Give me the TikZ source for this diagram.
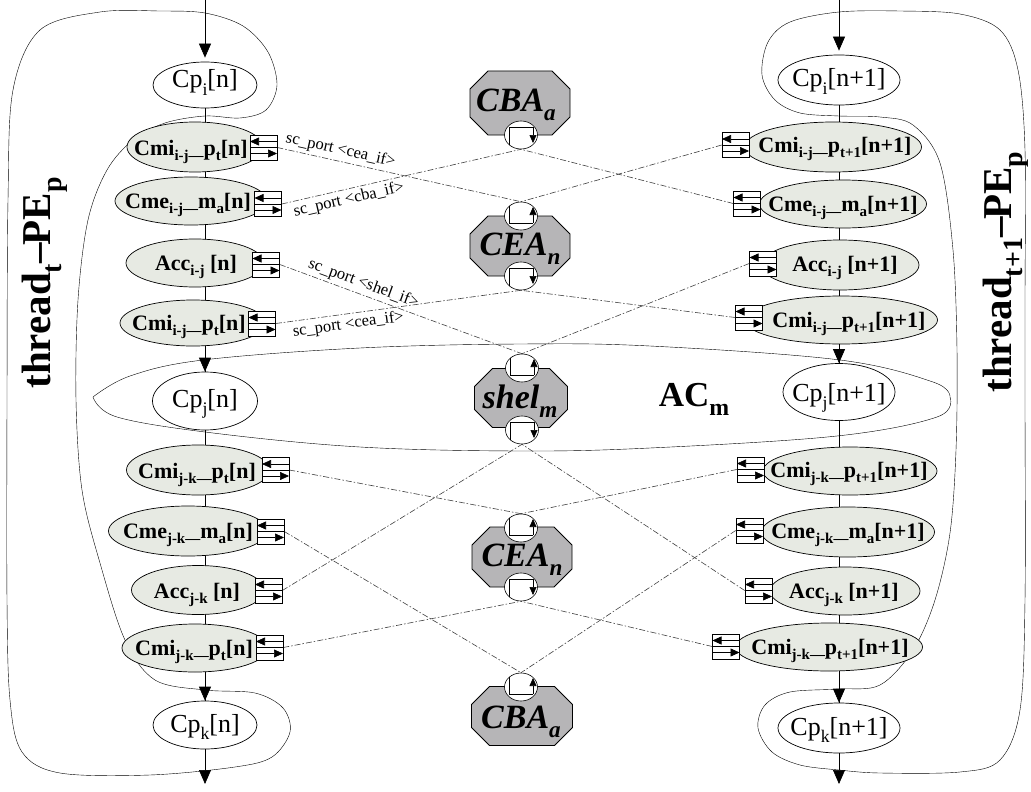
\documentclass[tikz,border=0pt]{standalone}
\usepackage{graphicx}
\usepackage{fontspec}
\setmainfont{Liberation Serif}
\usetikzlibrary{shapes.geometric,arrows.meta,backgrounds}
\definecolor{gfill}{RGB}{231,234,227}
\definecolor{ofill}{RGB}{182,181,183}
% lowered, reduced subscript as used in all the labels
\newcommand{\sbs}[1]{\raisebox{-0.27em}{\scalebox{0.68}{#1}}}
\newcommand{\fs}[1]{\fontsize{#1}{#1}\selectfont}

\begin{document}
\begin{tikzpicture}[x=1pt,y=-1pt,line width=0.7pt,
  sz/.style 2 args={minimum width=#1pt, minimum height=#2pt},
  cp/.style={ellipse, draw, fill=white, inner sep=0pt},
  gm/.style={ellipse, draw, fill=gfill, inner sep=0pt},
  cptext/.style={anchor=base, inner sep=0pt, font=\fs{26}},
  gtext/.style={anchor=base, inner sep=0pt, font=\bfseries\fs{22}},
  otext/.style={anchor=base, inner sep=0pt, font=\bfseries\itshape\fs{34}},
  bigtext/.style={anchor=base, inner sep=0pt, font=\bfseries\fs{35}},
  thrtext/.style={inner sep=0pt, font=\bfseries\fs{41}, rotate=90},
  arr/.style={-{Triangle[length=14pt,width=12pt]}},
  cl/.style={line width=0.6pt, black!75, dash pattern=on 6pt off 2pt on 1.5pt off 2pt},
  plab/.style={font=\fs{16.5}, text=black, inner sep=1pt, sloped},
  port/.style={rectangle, draw, fill=white, line width=0.6pt, inner sep=0pt,
    minimum width=27pt, minimum height=25pt,
    path picture={
      \draw[line width=0.6pt] (path picture bounding box.west) -- (path picture bounding box.east);
      \draw[line width=0.6pt, -{Triangle[length=9pt,width=8pt]}]
        ([shift={(0,-6)}]path picture bounding box.east) -- ([shift={(0,-6)}]path picture bounding box.west);
      \draw[line width=0.6pt, -{Triangle[length=9pt,width=8pt]}]
        ([shift={(0,6)}]path picture bounding box.west) -- ([shift={(0,6)}]path picture bounding box.east);
    }},
  pell/.style={ellipse, draw, fill=white, line width=0.6pt, inner sep=0pt,
    minimum width=33pt, minimum height=28pt},
  pdown/.style={pell, path picture={
      \draw[line width=0.6pt] ([shift={(-12,16)}]path picture bounding box.center)
        -- ([shift={(-12,-8)}]path picture bounding box.center)
        -- ([shift={(12,-8)}]path picture bounding box.center);
      \draw[line width=0.6pt, -{Triangle[length=8pt,width=7pt]}]
        ([shift={(12,-8)}]path picture bounding box.center) -- ([shift={(12,8)}]path picture bounding box.center);
    }},
  pup/.style={pell, path picture={
      \draw[line width=0.6pt] ([shift={(-12,-16)}]path picture bounding box.center)
        -- ([shift={(-12,7)}]path picture bounding box.center)
        -- ([shift={(12,7)}]path picture bounding box.center);
      \draw[line width=0.6pt, -{Triangle[length=8pt,width=7pt]}]
        ([shift={(12,7)}]path picture bounding box.center) -- ([shift={(12,-9)}]path picture bounding box.center);
    }},
  oct/.style 2 args={rectangle, inner sep=0pt, minimum width=#1pt, minimum height=#2pt,
    path picture={
      \fill[ofill, draw=black, line width=0.8pt]
        ([shift={(19,1)}]path picture bounding box.north west) --
        ([shift={(-19,1)}]path picture bounding box.north east) --
        ([shift={(-1,19)}]path picture bounding box.north east) --
        ([shift={(-1,-19)}]path picture bounding box.south east) --
        ([shift={(-19,-1)}]path picture bounding box.south east) --
        ([shift={(19,-1)}]path picture bounding box.south west) --
        ([shift={(1,-19)}]path picture bounding box.south west) --
        ([shift={(1,19)}]path picture bounding box.north west) -- cycle;
    }},
]
\useasboundingbox (0,0) rectangle (1031,792);

% free ends of the column arrows
\coordinate (ltop) at (205,0);
\coordinate (lbot) at (205,784);
\coordinate (rtop) at (839,0);
\coordinate (rbot) at (839,784);

% ---------- left column: thread t ----------
\node[cp, sz={104}{46}] (cpi) at (205,85) {};
\node[cptext] (cpit) at (205,88) {Cp\sbs{i}[n]};
\node[gm, sz={136}{50}] (cmi1) at (195,147) {};
\node[gtext] (cmi1t) at (191,155) {Cmi\sbs{i-j—}p\sbs{t}[n]};
\node[gm, sz={152}{48}] (cme1) at (191,201) {};
\node[gtext] (cme1t) at (188,208) {Cme\sbs{i-j—}m\sbs{a}[n]};
\node[gm, sz={138}{48}] (acc1) at (195,263) {};
\node[gtext] (acc1t) at (196,270) {Acc\sbs{i-j} [n]};
\node[gm, sz={146}{46}] (cmi2) at (193,323) {};
\node[gtext] (cmi2t) at (189,330) {Cmi\sbs{i-j—}p\sbs{t}[n]};
\node[cp, sz={105}{58}] (cpj) at (205,401) {};
\node[cptext] (cpjt) at (205,407) {Cp\sbs{j}[n]};
\node[gm, sz={143}{50}] (cmi3) at (198,470) {};
\node[gtext] (cmi3t) at (197,478) {Cmi\sbs{j-k—}p\sbs{t}[n]};
\node[gm, sz={159}{50}] (cme3) at (188,531) {};
\node[gtext] (cme3t) at (188,538) {Cme\sbs{j-k—}m\sbs{a}[n]};
\node[gm, sz={133}{49}] (acc3) at (198,590) {};
\node[gtext] (acc3t) at (197,598) {Acc\sbs{j-k} [n]};
\node[gm, sz={146}{48}] (cmi4) at (195,648) {};
\node[gtext] (cmi4t) at (194,655) {Cmi\sbs{j-k—}p\sbs{t}[n]};
\node[cp, sz={104}{48}] (cpk) at (205,725) {};
\node[cptext] (cpkt) at (205,732) {Cp\sbs{k}[n]};

\node[port] (cmi1p) at (263.5,147.5) {};
\node[port] (cme1p) at (268,204) {};
\node[port] (acc1p) at (266,264.5) {};
\node[port] (cmi2p) at (262,323.5) {};
\node[port] (cmi3p) at (275.5,470) {};
\node[port] (cme3p) at (270.5,531.5) {};
\node[port] (acc3p) at (268.5,590.5) {};
\node[port] (cmi4p) at (269.5,647.5) {};

% ---------- right column: thread t+1 ----------
\node[cp, sz={122}{50}] (cpir) at (839,80) {};
\node[cptext] (cpirt) at (839,87) {Cp\sbs{i}[n+1]};
\node[gm, sz={177}{50}] (cmi1r) at (833,147) {};
\node[gtext] (cmi1rt) at (835,152) {Cmi\sbs{i-j—}p\sbs{t+1}[n+1]};
\node[gm, sz={167}{48}] (cme1r) at (843,204) {};
\node[gtext] (cme1rt) at (843,211) {Cme\sbs{i-j—}m\sbs{a}[n+1]};
\node[gm, sz={158}{50}] (acc1r) at (840,265) {};
\node[gtext] (acc1rt) at (845,271) {Acc\sbs{i-j} [n+1]};
\node[gm, sz={193}{48}] (cmi2r) at (841,320) {};
\node[gtext] (cmi2rt) at (849,327) {Cmi\sbs{i-j—}p\sbs{t+1}[n+1]};
\node[cp, sz={112}{57}] (cpjr) at (839,392) {};
\node[cptext] (cpjrt) at (839,401) {Cp\sbs{j}[n+1]};
\node[gm, sz={174}{48}] (cmi3r) at (850,471) {};
\node[gtext] (cmi3rt) at (849,477) {Cmi\sbs{j-k—}p\sbs{t+1}[n+1]};
\node[gm, sz={173}{50}] (cme3r) at (848,532) {};
\node[gtext] (cme3rt) at (848,538) {Cme\sbs{j-k—}m\sbs{a}[n+1]};
\node[gm, sz={150}{48}] (acc3r) at (845,591) {};
\node[gtext] (acc3rt) at (844,598) {Acc\sbs{j-k} [n+1]};
\node[gm, sz={187}{48}] (cmi4r) at (829,647) {};
\node[gtext] (cmi4rt) at (830,654) {Cmi\sbs{j-k—}p\sbs{t+1}[n+1]};
\node[cp, sz={122}{50}] (cpkr) at (839,728) {};
\node[cptext] (cpkrt) at (839,735) {Cp\sbs{k}[n+1]};

\node[port] (cmi1rp) at (735.5,145) {};
\node[port] (cme1rp) at (747,203.5) {};
\node[port] (acc1rp) at (763,263.5) {};
\node[port] (cmi2rp) at (749,317.5) {};
\node[port] (cmi3rp) at (750.5,469.5) {};
\node[port] (cme3rp) at (749.5,530.5) {};
\node[port] (acc3rp) at (758.5,590.5) {};
\node[port] (cmi4rp) at (726,646.5) {};

% ---------- channels in the middle ----------
\node[oct={102}{66}] (cba1) at (520,103) {};
\node[otext] (cba1t) at (516,111) {CBA\sbs{a}};
\node[pdown] (cba1b) at (521,135) {};

\node[oct={102}{62}] (cea1) at (520,246) {};
\node[otext] (cea1t) at (520,255) {CEA\sbs{n}};
\node[pup] (cea1u) at (521,216) {};
\node[pdown] (cea1d) at (521,276) {};

\node[oct={95}{61}] (shel) at (521,398) {};
\node[otext] (shelt) at (520,408) {shel\sbs{m}};
\node[pup] (shelu) at (522,368) {};
\node[pdown] (sheld) at (522,430) {};

\node[oct={102}{62}] (cea2) at (522,557) {};
\node[otext] (cea2t) at (522,566) {CEA\sbs{n}};
\node[pup] (cea2u) at (521,528) {};
\node[pdown] (cea2d) at (521,587) {};

\node[oct={103}{61}] (cba2) at (522,716) {};
\node[otext] (cba2t) at (521,728) {CBA\sbs{a}};
\node[pup] (cba2u) at (521,687) {};

\node[bigtext] (acm) at (694,406) {AC\sbs{m}};
\node[thrtext] (thrl) at (45,283) {thread\sbs{t}–\kern-2pt PE\sbs{p}};
\node[thrtext] (thrr) at (1006,272) {thread\sbs{t+1}–\kern-2pt PE\sbs{p}};

% ---------- column arrows ----------
\draw[arr, shorten >=4pt] (ltop) -- (cpi.north);
\draw[arr] (cpj.north |- cmi2.south) -- (cpj.north);
\draw[arr] (cpk.north |- cmi4.south) -- (cpk.north);
\draw[arr] (cpk.south) -- (lbot);
\draw[arr, shorten >=4pt] (rtop) -- (cpir.north);
\draw[arr] (cpjr.north |- cmi2r.south) -- (cpjr.north);
\draw[arr] (cpkr.north |- cmi4r.south) -- (cpkr.north);
\draw[arr] (cpkr.south) -- (rbot);

\begin{scope}[on background layer]
  % thread t boundary
  \draw plot[smooth cycle, tension=0.55] coordinates {
    (7,400) (8,200) (13,90) (40,30) (100,12) (160,11) (205,13) (243,26) (268,52)
    (277,85) (266,110) (240,118) (205,116) (165,123) (133,140) (107,170) (88,220)
    (78,300) (76,400) (82,490) (100,563) (125,640) (155,680) (205,690) (255,693)
    (283,708) (290,732) (272,757) (235,767) (150,775) (60,773) (22,752) (10,700) (7,600)};
  % thread t+1 boundary
  \draw plot[smooth cycle, tension=0.55] coordinates {
    (1025,400) (1025,600) (1020,710) (1000,760) (960,772) (880,773) (839,770)
    (800,765) (772,752) (758,728) (765,705) (790,692) (839,689) (880,685)
    (913,650) (935,600) (950,533) (956,450) (957,350) (953,250) (940,163)
    (913,125) (880,117) (839,116) (800,113) (775,100) (762,75) (768,42) (790,22)
    (839,12) (900,11) (960,14) (1000,30) (1018,70) (1025,150) (1025,300)};
  % AC_m boundary
  \draw plot[smooth, tension=0.6] coordinates {
    (93,397) (130,376) (203,360) (360,348) (520,344) (650,346) (840,360) (933,382) (950,397)};
  \draw plot[smooth, tension=0.6] coordinates {
    (950,397) (937,417) (837,436) (650,448) (520,451) (360,447) (213,433) (117,417) (93,397)};

  % column spines
  \draw (cpi.south) -- (cpk.north);
  \draw (cpir.south) -- (cpkr.north);

  % port bindings
  \draw[cl] (cmi1p.east) -- node[plab, pos=0.25, above=2pt] {sc\_port <cea\_if>} (cea1u.north);
  \draw[cl] (cmi1rp.west) -- (cea1u.north);
  \draw[cl] (cme1p.east) -- node[plab, pos=0.27, below=2pt] {sc\_port <cba\_if>} (cba1b.south);
  \draw[cl] (cme1rp.west) -- (cba1b.south);
  \draw[cl] (acc1p.east) -- node[plab, pos=0.33, above=2pt] {sc\_port <shel\_if>} (shelu.north);
  \draw[cl] (acc1rp.west) -- (shelu.north);
  \draw[cl] (cmi2p.east) -- node[plab, pos=0.29, below=2pt] {sc\_port <cea\_if>} (cea1d.south);
  \draw[cl] (cmi2rp.west) -- (cea1d.south);
  \draw[cl] (cmi3p.east) -- (cea2u.north);
  \draw[cl] (cmi3rp.west) -- (cea2u.north);
  \draw[cl] (cme3p.east) -- (cba2u.north);
  \draw[cl] (cme3rp.west) -- (cba2u.north);
  \draw[cl] (acc3p.east) -- (sheld.south);
  \draw[cl] (acc3rp.west) -- (sheld.south);
  \draw[cl] (cmi4p.east) -- (cea2d.south);
  \draw[cl] (cmi4rp.west) -- (cea2d.south);
\end{scope}
\end{tikzpicture}
\end{document}
